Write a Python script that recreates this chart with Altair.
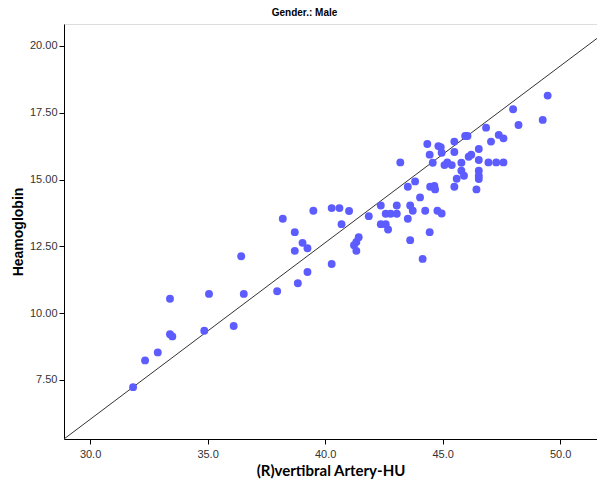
import altair as alt
import pandas as pd

# Data
artery_hu = [31.83, 32.34, 32.88, 33.40, 33.40, 33.50, 34.86, 35.06, 36.11, 36.43,
             36.54, 37.96, 38.20, 38.71, 38.71, 39.04, 39.25, 38.84, 39.25, 39.50,
             40.28, 40.61, 41.02, 40.70, 40.28, 41.43, 41.33, 41.23, 41.33, 41.86,
             42.37, 42.58, 42.79, 43.05, 43.05, 42.37, 42.58, 42.68, 43.20, 44.35,
             44.82, 44.92, 44.45, 44.58, 44.96, 45.08, 45.20, 45.39, 45.50, 45.96,
             46.06, 45.50, 45.80, 45.80, 45.91, 45.60, 45.50, 46.11, 46.22, 46.54,
             46.54, 46.54, 46.54, 46.54, 46.44, 46.95, 47.28, 47.59, 47.06, 43.83,
             43.52, 44.47, 44.65, 44.68, 44.04, 43.62, 43.73, 44.26, 44.78, 44.96,
             43.52, 43.62, 44.45, 44.15, 49.47, 49.26, 48.00, 48.23, 46.85, 47.39,
             47.59]
haemoglobin = [7.23, 8.23, 8.53, 10.54, 9.21, 9.13, 9.34, 10.72, 9.52, 12.13,
               10.72, 10.82, 13.53, 13.03, 12.33, 12.63, 12.43, 11.12, 11.54, 13.83,
               13.93, 13.93, 13.82, 13.33, 11.84, 12.84, 12.66, 12.54, 12.33, 13.63,
               14.03, 13.72, 13.72, 13.72, 14.03, 13.33, 13.33, 13.13, 15.64, 16.33,
               16.25, 16.21, 15.93, 15.63, 16.00, 15.54, 15.64, 15.54, 16.42, 16.63,
               16.63, 16.03, 15.63, 15.33, 15.14, 15.03, 14.73, 15.85, 15.93, 16.14,
               15.73, 15.33, 15.14, 15.02, 14.63, 15.64, 15.64, 15.64, 16.42, 14.93,
               14.73, 14.73, 14.76, 14.63, 14.33, 14.03, 13.83, 13.83, 13.83, 13.73,
               13.53, 12.73, 13.03, 12.03, 18.14, 17.23, 17.63, 17.04, 16.94, 16.67,
               16.54]

ref_line_x = [28.89, 51.87]
ref_line_y = [5.29, 20.48]

x_ticks = [30, 35, 40, 45, 50]
y_ticks = [7.5, 10, 12.5, 15, 17.5, 20]
x_domain = [28.89, 51.57]
y_domain = [5.29, 20.82]

pts = pd.DataFrame({"x": artery_hu, "y": haemoglobin})
ln = pd.DataFrame({"x": ref_line_x, "y": ref_line_y})

xscale = alt.Scale(domain=x_domain, nice=False, zero=False)
yscale = alt.Scale(domain=y_domain, nice=False, zero=False)

xaxis = alt.Axis(values=x_ticks, format=".1f", grid=False, tickSize=5, tickColor="black",
                 domainColor="black", labelFont="Liberation Sans", labelFontSize=11,
                 labelColor="#333333", labelPadding=4, title="(R)vertibral Artery-HU",
                 titleFont="Lato", titleFontSize=15, titleFontWeight="bold",
                 titleColor="black", titlePadding=4)
yaxis = alt.Axis(values=y_ticks, format=".2f", grid=False, tickSize=5, tickColor="black",
                 domainColor="black", labelFont="Liberation Sans", labelFontSize=11,
                 labelColor="#333333", labelPadding=2, title="Heamoglobin",
                 titleFont="Liberation Sans", titleFontSize=14, titleFontWeight="bold",
                 titleColor="black", titlePadding=4)

line = alt.Chart(ln).mark_line(color="#333333", strokeWidth=1, clip=True).encode(
    x=alt.X("x:Q", scale=xscale, axis=xaxis),
    y=alt.Y("y:Q", scale=yscale, axis=yaxis),
)

points = alt.Chart(pts).mark_circle(size=62, color="#5c5cff", opacity=1).encode(
    x=alt.X("x:Q", scale=xscale),
    y=alt.Y("y:Q", scale=yscale),
)

chart = (line + points).properties(
    width=533, height=415,
    autosize=alt.AutoSizeParams(type="none"),
    padding={"left": 56, "top": 16, "right": 0, "bottom": 42},
    title=alt.TitleParams("Gender.: Male", font="Liberation Sans", fontSize=10,
                          fontWeight="bold", color="black", offset=6, dx=-26),
).configure_view(stroke="#999999", strokeWidth=1.5).configure(background="white")

chart.save("out.html", embed_options={"renderer": "svg", "actions": False})
